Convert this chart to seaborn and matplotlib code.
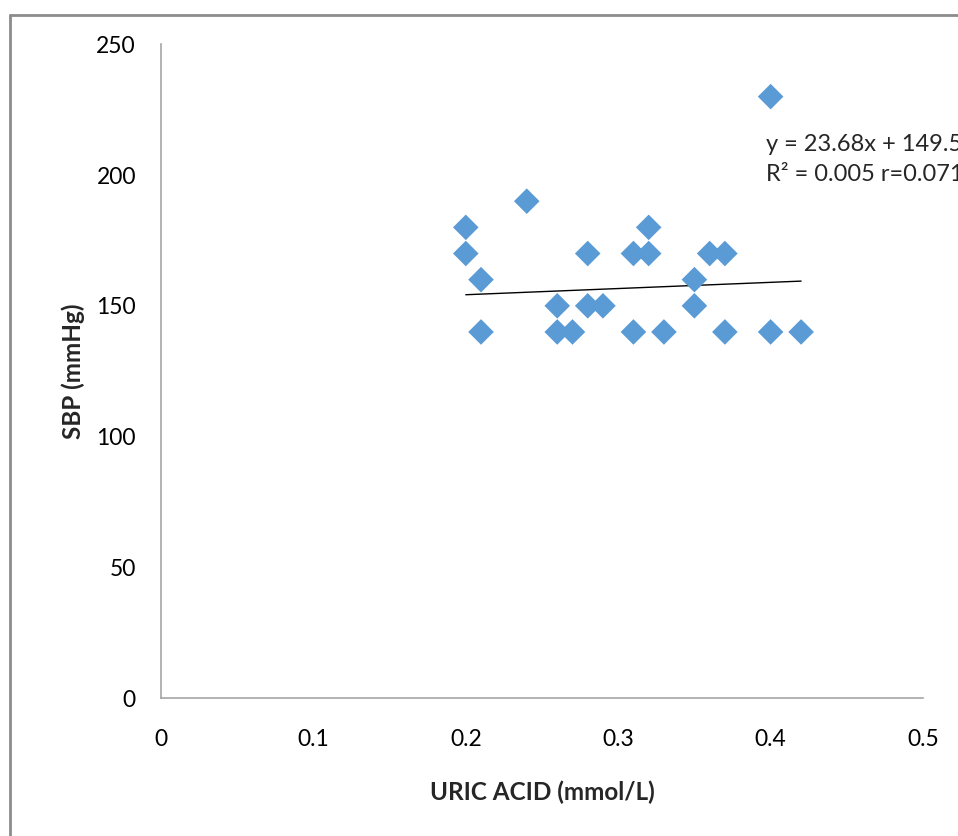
import matplotlib.pyplot as plt
import matplotlib.lines as mlines
import numpy as np
import pandas as pd
import seaborn as sns

# values
uric_acid = [0.20, 0.20, 0.21, 0.21, 0.24, 0.26, 0.26, 0.27, 0.28, 0.28, 0.29,
             0.31, 0.31, 0.32, 0.32, 0.33, 0.35, 0.35, 0.36, 0.37, 0.37,
             0.40, 0.40, 0.42]
sbp = [180, 170, 160, 140, 190, 150, 140, 140, 170, 150, 150,
       170, 140, 180, 170, 140, 160, 150, 170, 170, 140,
       230, 140, 140]

# trendline as printed on the chart
slope = 23.68
intercept = 149.5
eq_text = "y = 23.68x + 149.5\nR² = 0.005 r=0.071"

x_ticks = [0, 0.1, 0.2, 0.3, 0.4, 0.5]
x_tick_labels = ["0", "0.1", "0.2", "0.3", "0.4", "0.5"]
y_ticks = [0, 50, 100, 150, 200, 250]

df = pd.DataFrame({"uric": uric_acid, "sbp": sbp})

sns.set_style("white")
plt.rcParams["font.family"] = ["Lato", "DejaVu Sans"]

fig = plt.figure(figsize=(9.58, 8.36), dpi=100)
ax = fig.add_axes([0.168, 0.165, 0.7955, 0.782])

sns.scatterplot(data=df, x="uric", y="sbp", ax=ax, marker="D", s=170,
                color="#5B9BD5", edgecolor="none", linewidth=0, zorder=3)

xs = np.array([min(uric_acid), max(uric_acid)])
ax.plot(xs, slope * xs + intercept, color="black", linewidth=1, zorder=2)

ax.set_xlim(0, 0.5)
ax.set_ylim(0, 250)
ax.set_xticks(x_ticks)
ax.set_xticklabels(x_tick_labels)
ax.set_yticks(y_ticks)
ax.tick_params(axis="both", length=0, labelsize=16.5, colors="black")
ax.tick_params(axis="x", pad=22)
ax.tick_params(axis="y", pad=18)

for side in ["top", "right"]:
    ax.spines[side].set_visible(False)
for side in ["left", "bottom"]:
    ax.spines[side].set_color("#A6A6A6")
    ax.spines[side].set_linewidth(1.2)

ax.set_xlabel("URIC ACID (mmol/L)", fontsize=17.5, fontweight="bold", labelpad=22)
ax.set_ylabel("SBP (mmHg)", fontsize=17.5, fontweight="bold", labelpad=8)

# the equation label runs off the right edge, as in the original chart
ax.text(0.397, 206, eq_text, fontsize=17, va="center", ha="left",
        linespacing=1.5, clip_on=False)

# grey chart-area border (left and top edges visible)
fig.add_artist(mlines.Line2D([9.5 / 958, 9.5 / 958], [0, 1 - 15 / 836],
                             transform=fig.transFigure, color="#8C8C8C", linewidth=2))
fig.add_artist(mlines.Line2D([9.5 / 958, 1], [1 - 15 / 836, 1 - 15 / 836],
                             transform=fig.transFigure, color="#8C8C8C", linewidth=2))

plt.savefig("out.png", dpi=100)
